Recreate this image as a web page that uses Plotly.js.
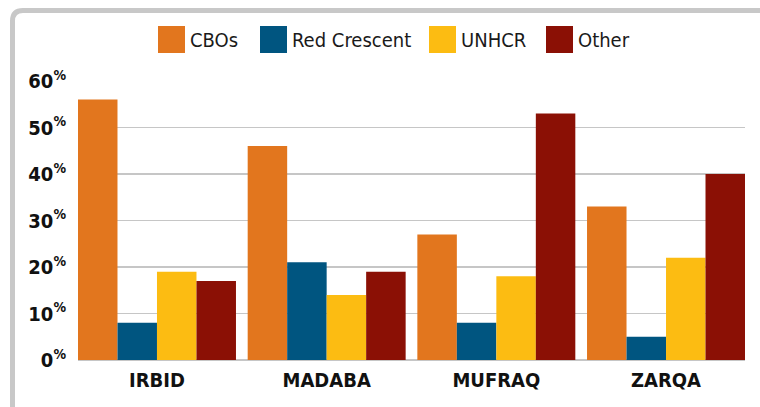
<!DOCTYPE html>
<html>
<head>
<meta charset="utf-8">
<script src="https://cdn.plot.ly/plotly-3.0.1.min.js"></script>
<style>
  html, body { margin: 0; padding: 0; background: #fff; }
  #chart { width: 760px; height: 407px; }
</style>
</head>
<body>
<div id="chart"></div>
<script>
// chart data
var districts = ['IRBID', 'MADABA', 'MUFRAQ', 'ZARQA'];
var seriesNames = ['CBOs', 'Red Crescent', 'UNHCR', 'Other'];
var cbos = [56, 46, 27, 33];
var redCrescent = [8, 21, 8, 5];
var unhcr = [19, 14, 18, 22];
var other = [17, 19, 53, 40];
var yTicks = [0, 10, 20, 30, 40, 50, 60];

var colors = ['#E2761E', '#005580', '#FCBC12', '#8B1005'];
var values = [cbos, redCrescent, unhcr, other];

// plot box in pixels, used to place the frame and the legend
var W = 760, H = 407;
var M = {l: 78, r: 15, t: 81, b: 47};
var pw = W - M.l - M.r, ph = H - M.t - M.b;
function px(x) { return (x - M.l) / pw; }
function py(y) { return (H - M.b - y) / ph; }

var data = seriesNames.map(function (name, i) {
    return {
        type: 'bar',
        name: name,
        x: districts,
        y: values[i],
        marker: {color: colors[i], line: {width: 0}},
        hoverinfo: 'x+y+name'
    };
});

var fontFam = '"DejaVu Sans Condensed", "DejaVu Sans", sans-serif';

// legend drawn as big square swatches + labels
var swatchLeft = [158, 260, 429, 546];
var shapes = [];
var annotations = [];
seriesNames.forEach(function (name, i) {
    shapes.push({
        type: 'rect', xref: 'paper', yref: 'paper',
        x0: px(swatchLeft[i]), x1: px(swatchLeft[i] + 27),
        y0: py(53), y1: py(26),
        fillcolor: colors[i], line: {width: 0}
    });
    annotations.push({
        xref: 'paper', yref: 'paper',
        x: px(swatchLeft[i] + 30), y: py(40),
        xanchor: 'left', yanchor: 'middle',
        text: name, showarrow: false,
        font: {family: fontFam, size: 20, color: '#1a1a1a'}
    });
});

// grey rounded frame, running off the right and bottom edges
var frame = 'M' + px(12.5) + ',' + py(430) +
    ' L' + px(12.5) + ',' + py(21) +
    ' Q' + px(12.5) + ',' + py(10.5) + ' ' + px(23) + ',' + py(10.5) +
    ' L' + px(790) + ',' + py(10.5);
shapes.push({
    type: 'path', xref: 'paper', yref: 'paper', path: frame,
    line: {color: '#c8c8c8', width: 5}
});

var layout = {
    width: W, height: H,
    margin: M,
    paper_bgcolor: '#ffffff',
    plot_bgcolor: '#ffffff',
    showlegend: false,
    barmode: 'group',
    bargap: 0.069,
    bargroupgap: 0,
    font: {family: fontFam, color: '#111'},
    xaxis: {
        type: 'category',
        range: [-0.4655, 3.4655],
        showgrid: false, zeroline: false, showline: false,
        ticks: '',
        ticklabelstandoff: 6,
        tickfont: {family: fontFam, size: 20, color: '#111'},
        ticktext: districts.map(function (d) { return '<b>' + d + '</b>'; }),
        tickvals: districts
    },
    yaxis: {
        range: [0, 60],
        tickvals: yTicks,
        ticktext: yTicks.map(function (v) { return '<b>' + v + '<sup>%</sup></b>'; }),
        showgrid: true, gridcolor: '#c6c6c6', gridwidth: 1.5,
        zeroline: true, zerolinecolor: '#c6c6c6', zerolinewidth: 1.5,
        showline: false, ticks: '',
        ticklabelstandoff: 11,
        tickfont: {family: fontFam, size: 20, color: '#111'}
    },
    shapes: shapes,
    annotations: annotations
};

Plotly.newPlot('chart', data, layout, {displayModeBar: false, staticPlot: true});
</script>
</body>
</html>
